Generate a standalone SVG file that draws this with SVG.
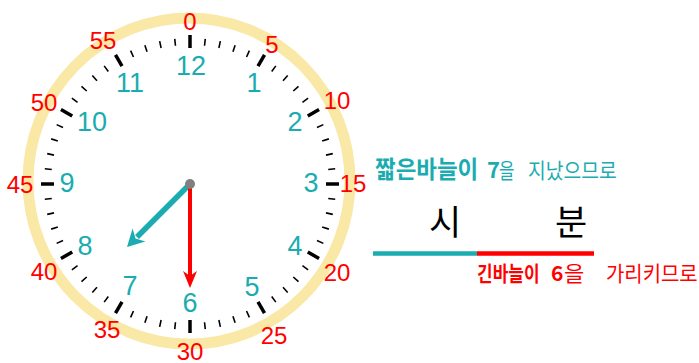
<svg xmlns="http://www.w3.org/2000/svg" xmlns:xlink="http://www.w3.org/1999/xlink" width="699" height="363" viewBox="0 0 699 363">
<style>
.hr{font-family:"Liberation Sans",Arial,sans-serif;font-size:27px;fill:#1AACB0;text-anchor:middle;dominant-baseline:central}
.mn{font-family:"Liberation Sans",Arial,sans-serif;font-size:24px;fill:#FF0000;text-anchor:middle;dominant-baseline:central}
.kt{font-family:"Noto Sans CJK KR",sans-serif}
</style>
<defs>
<line id="mt" x1="190" y1="38" x2="190" y2="45" stroke="#000" stroke-width="1.6"/>
<line id="ht" x1="190" y1="35" x2="190" y2="48" stroke="#000" stroke-width="3.5"/>
</defs>
<rect width="699" height="363" fill="#fff"/>
<g id="clock">
<ellipse cx="189" cy="181" rx="161" ry="163" fill="#fff" stroke="#FAE8A6" stroke-width="11"/>
<g id="ticks">
<use href="#ht" transform="rotate(0 190 184)"/><use href="#mt" transform="rotate(6 190 184)"/><use href="#mt" transform="rotate(12 190 184)"/><use href="#mt" transform="rotate(18 190 184)"/><use href="#mt" transform="rotate(24 190 184)"/>
<use href="#ht" transform="rotate(30 190 184)"/><use href="#mt" transform="rotate(36 190 184)"/><use href="#mt" transform="rotate(42 190 184)"/><use href="#mt" transform="rotate(48 190 184)"/><use href="#mt" transform="rotate(54 190 184)"/>
<use href="#ht" transform="rotate(60 190 184)"/><use href="#mt" transform="rotate(66 190 184)"/><use href="#mt" transform="rotate(72 190 184)"/><use href="#mt" transform="rotate(78 190 184)"/><use href="#mt" transform="rotate(84 190 184)"/>
<use href="#ht" transform="rotate(90 190 184)"/><use href="#mt" transform="rotate(96 190 184)"/><use href="#mt" transform="rotate(102 190 184)"/><use href="#mt" transform="rotate(108 190 184)"/><use href="#mt" transform="rotate(114 190 184)"/>
<use href="#ht" transform="rotate(120 190 184)"/><use href="#mt" transform="rotate(126 190 184)"/><use href="#mt" transform="rotate(132 190 184)"/><use href="#mt" transform="rotate(138 190 184)"/><use href="#mt" transform="rotate(144 190 184)"/>
<use href="#ht" transform="rotate(150 190 184)"/><use href="#mt" transform="rotate(156 190 184)"/><use href="#mt" transform="rotate(162 190 184)"/><use href="#mt" transform="rotate(168 190 184)"/><use href="#mt" transform="rotate(174 190 184)"/>
<use href="#ht" transform="rotate(180 190 184)"/><use href="#mt" transform="rotate(186 190 184)"/><use href="#mt" transform="rotate(192 190 184)"/><use href="#mt" transform="rotate(198 190 184)"/><use href="#mt" transform="rotate(204 190 184)"/>
<use href="#ht" transform="rotate(210 190 184)"/><use href="#mt" transform="rotate(216 190 184)"/><use href="#mt" transform="rotate(222 190 184)"/><use href="#mt" transform="rotate(228 190 184)"/><use href="#mt" transform="rotate(234 190 184)"/>
<use href="#ht" transform="rotate(240 190 184)"/><use href="#mt" transform="rotate(246 190 184)"/><use href="#mt" transform="rotate(252 190 184)"/><use href="#mt" transform="rotate(258 190 184)"/><use href="#mt" transform="rotate(264 190 184)"/>
<use href="#ht" transform="rotate(270 190 184)"/><use href="#mt" transform="rotate(276 190 184)"/><use href="#mt" transform="rotate(282 190 184)"/><use href="#mt" transform="rotate(288 190 184)"/><use href="#mt" transform="rotate(294 190 184)"/>
<use href="#ht" transform="rotate(300 190 184)"/><use href="#mt" transform="rotate(306 190 184)"/><use href="#mt" transform="rotate(312 190 184)"/><use href="#mt" transform="rotate(318 190 184)"/><use href="#mt" transform="rotate(324 190 184)"/>
<use href="#ht" transform="rotate(330 190 184)"/><use href="#mt" transform="rotate(336 190 184)"/><use href="#mt" transform="rotate(342 190 184)"/><use href="#mt" transform="rotate(348 190 184)"/><use href="#mt" transform="rotate(354 190 184)"/>
</g>
<g id="hours">
<text class="hr" x="191" y="66">12</text>
<text class="hr" x="254" y="83">1</text>
<text class="hr" x="295" y="122">2</text>
<text class="hr" x="311" y="183">3</text>
<text class="hr" x="295" y="246">4</text>
<text class="hr" x="252" y="287">5</text>
<text class="hr" x="190" y="303">6</text>
<text class="hr" x="130" y="286">7</text>
<text class="hr" x="85" y="246">8</text>
<text class="hr" x="67" y="183">9</text>
<text class="hr" x="92" y="122">10</text>
<text class="hr" x="130" y="83">11</text>
</g>
<g id="minutes">
<text class="mn" x="190" y="21">0</text>
<text class="mn" x="272" y="44">5</text>
<text class="mn" x="337" y="100">10</text>
<text class="mn" x="353" y="183">15</text>
<text class="mn" x="337" y="272">20</text>
<text class="mn" x="274" y="335">25</text>
<text class="mn" x="190" y="351">30</text>
<text class="mn" x="107" y="329">35</text>
<text class="mn" x="44" y="271">40</text>
<text class="mn" x="20" y="184">45</text>
<text class="mn" x="44" y="102">50</text>
<text class="mn" x="103" y="40">55</text>
</g>
</g>
<g id="connectors">
<g id="hour-hand">
<line x1="190" y1="184" x2="137" y2="237" stroke="#1AACB0" stroke-width="5.5"/>
<polygon points="127,247 132.6,228.6 135.5,238.5 145.4,241.4" fill="#1AACB0"/>
</g>
<g id="minute-hand">
<line x1="190" y1="184" x2="190" y2="278" stroke="#FF0000" stroke-width="4"/>
<polygon points="190,288 183,271 190,276 197,271" fill="#FF0000"/>
</g>
<circle cx="190" cy="184" r="5" fill="#808080"/>
</g>
<g id="explain">
<g id="hour-text" fill="#1AACB0" class="kt">
<text transform="translate(375,178) scale(0.935,1)" font-size="24" font-weight="bold">짧은바늘이</text>
<text x="487" y="178" font-size="22" font-weight="bold">7</text>
<text transform="translate(499,178) scale(0.8,1)" font-size="21">을</text>
<text transform="translate(528,178) scale(0.92,1)" font-size="21">지났으므로</text>
</g>
<text x="445" y="235" font-size="35" text-anchor="middle" class="kt" fill="#000">시</text>
<text x="571" y="235" font-size="35" text-anchor="middle" class="kt" fill="#000">분</text>
<line x1="373" y1="253.5" x2="477" y2="253.5" stroke="#1AACB0" stroke-width="4.5"/>
<line x1="477" y1="253.5" x2="594" y2="253.5" stroke="#FF0000" stroke-width="4.5"/>
<g id="minute-text" fill="#FF0000" class="kt">
<text transform="translate(477,280.5) scale(0.81,1)" font-size="21" font-weight="bold">긴바늘이</text>
<text x="551" y="280.5" font-size="21" font-weight="bold">6</text>
<text transform="translate(564,280.5) scale(1.05,1)" font-size="21">을</text>
<text transform="translate(606,280.5) scale(0.95,1)" font-size="21">가리키므로</text>
</g>
</g>
</svg>
